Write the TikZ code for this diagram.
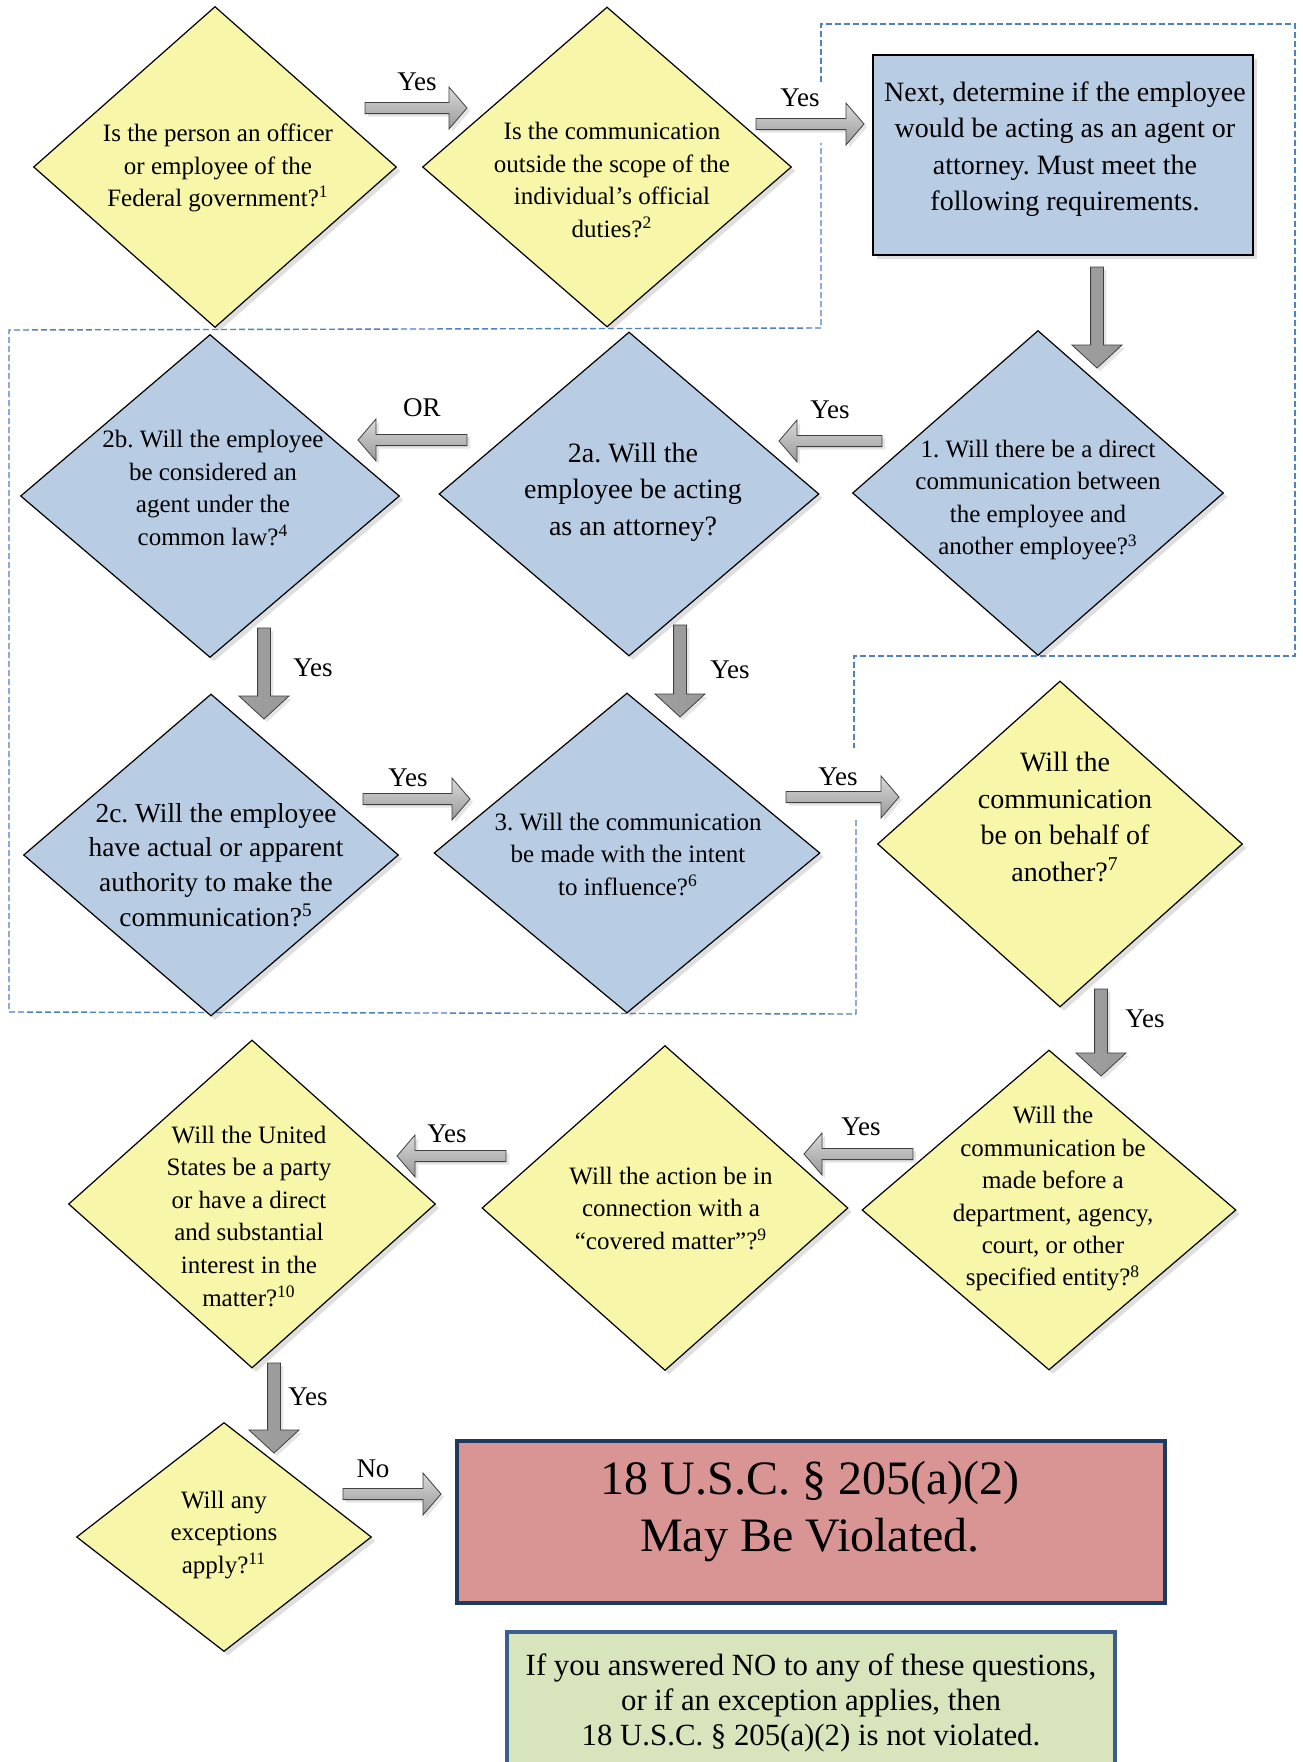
\documentclass[tikz,border=0pt]{standalone}
\usepackage{fontspec}
\setmainfont{Liberation Serif}
\usetikzlibrary{shapes.geometric,shadows,calc}
\frenchspacing
\definecolor{yel}{HTML}{F8F6A9}
\definecolor{blu}{HTML}{B8CCE4}
\definecolor{redf}{HTML}{D99594}
\definecolor{redb}{HTML}{1F3A60}
\definecolor{grnf}{HTML}{D7E4BC}
\definecolor{grnb}{HTML}{3B5E8C}
\definecolor{dashblue}{HTML}{4F81BD}
\def\arrw{3pt}\def\arrW{11pt}\def\arrh{10pt}
\tikzset{
  shd/.style={drop shadow={shadow xshift=2pt,shadow yshift=-2pt,opacity=0.25}},
  dia/.style={shape=diamond, draw=black, line width=0.6pt, inner sep=0pt, shd},
  yeldia/.style={dia, fill=yel},
  bludia/.style={dia, fill=blu},
  txt/.style={align=center, inner sep=0pt, font=\fontsize{12.5}{16.25}\selectfont},
  bigtxt/.style={align=center, inner sep=0pt, font=\fontsize{14}{18.25}\selectfont},
  lab/.style={inner sep=0pt, font=\fontsize{13.5}{16}\selectfont},
  dashline/.style={draw=dashblue, line width=0.7pt, dash pattern=on 3pt off 1.5pt},
  blk/.style={draw=gray!50!black, line width=0.4pt,
    drop shadow={shadow xshift=1.5pt,shadow yshift=-1.5pt,opacity=0.2},
    to path={let \p1=(\tikztostart), \p2=(\tikztotarget),
      \p3=($(\tikztotarget)!\arrh!(\tikztostart)$) in
      ($(\p1)!\arrw!90:(\p2)$) -- ($(\p3)!\arrw!90:(\p2)$) -- ($(\p3)!\arrW!90:(\p2)$)
      -- (\p2) -- ($(\p3)!\arrW!-90:(\p2)$) -- ($(\p3)!\arrw!-90:(\p2)$)
      -- ($(\p1)!\arrw!-90:(\p2)$) -- cycle}},
  harr/.style={blk, top color=gray!30, bottom color=gray!80,
    /utils/exec={\def\arrw{2.8pt}\def\arrW{10.5pt}\def\arrh{9pt}}},
  varr/.style={blk, left color=gray!75, middle color=gray!35, right color=gray!80,
    /utils/exec={\def\arrw{3.2pt}\def\arrW{12.5pt}\def\arrh{11.5pt}}},
}
\begin{document}
\begin{tikzpicture}[x=0.5pt,y=-0.5pt]
\useasboundingbox (0,0) rectangle (1302,1762);
\clip (0,0) rectangle (1302,1762);
\fill[white] (0,0) rectangle (1302,1762);

% dashed grouping outline
\draw[dashline] (821,82) -- (821,24) -- (1295,24) -- (1295,656) -- (854,656) -- (854,748);
\draw[dashline] (856,820) -- (856,1014) -- (9,1012) -- (9,330) -- (821,328) -- (821,143);

% row 1
\node[yeldia, minimum width=181.5pt, minimum height=160.5pt] (d1) at (215,167) {};
\node[txt] (d1t) at (218,168) {Is the person an officer\\or employee of the\\Federal government?\textsuperscript{1}};
\node[yeldia, minimum width=184.5pt, minimum height=160pt] (d2) at (607,167) {};
\node[txt] (d2t) at (612,180) {Is the communication\\outside the scope of the\\individual’s official\\duties?\textsuperscript{2}};
\node[draw=black, fill=blu, line width=0.9pt, minimum width=190pt, minimum height=100pt, inner sep=0pt, shd] (box) at (1063,155) {};
\node[bigtxt] (boxt) at (1065,149) {Next, determine if the employee\\would be acting as an agent or\\attorney. Must meet the\\following requirements.};

% row 2
\node[bludia, minimum width=185.5pt, minimum height=162.5pt] (b1) at (1038,493) {};
\node[txt] (b1t) at (1038,500) {1. Will there be a direct\\communication between\\the employee and\\another employee?\textsuperscript{3}};
\node[bludia, minimum width=190pt, minimum height=162pt] (b2a) at (629,494) {};
\node[bigtxt] (b2at) at (633,492) {2a. Will the\\employee be acting\\as an attorney?};
\node[bludia, minimum width=189.5pt, minimum height=161.5pt] (b2b) at (210,496) {};
\node[txt] (b2bt) at (213,488) {2b. Will the employee\\be considered an\\agent under the\\common law?\textsuperscript{4}};

% row 3
\node[bludia, minimum width=187.5pt, minimum height=161pt] (b2c) at (211,855) {};
\node[align=center, inner sep=0pt, font=\fontsize{13.7}{17.4}\selectfont] (b2ct) at (216,865) {2c. Will the employee\\have actual or apparent\\authority to make the\\communication?\textsuperscript{5}};
\node[bludia, minimum width=193pt, minimum height=160pt] (b3) at (627,853) {};
\node[txt] (b3t) at (628,854) {3. Will the communication\\be made with the intent\\to influence?\textsuperscript{6}};
\node[yeldia, minimum width=182.5pt, minimum height=163pt] (beh) at (1060,844) {};
\node[bigtxt] (beht) at (1065,817) {Will the\\communication\\be on behalf of\\another?\textsuperscript{7}};

% row 4
\node[yeldia, minimum width=187pt, minimum height=160pt] (dep) at (1049,1210) {};
\node[align=center, inner sep=0pt, font=\fontsize{12.5}{16.2}\selectfont] (dept) at (1053,1199) {Will the\\communication be\\made before a\\department, agency,\\court, or other\\specified entity?\textsuperscript{8}};
\node[yeldia, minimum width=183pt, minimum height=162.5pt] (cov) at (665,1208) {};
\node[txt] (covt) at (671,1208) {Will the action be in\\connection with a\\“covered matter”?\textsuperscript{9}};
\node[yeldia, minimum width=183.5pt, minimum height=164pt] (uni) at (252,1204) {};
\node[align=center, inner sep=0pt, font=\fontsize{12.5}{16.3}\selectfont] (unit) at (249,1216) {Will the United\\States be a party\\or have a direct\\and substantial\\interest in the\\matter?\textsuperscript{10}};

% row 5
\node[yeldia, minimum width=147.5pt, minimum height=114.5pt] (exc) at (224,1537) {};
\node[txt] (exct) at (224,1535) {Will any\\exceptions\\apply?\textsuperscript{11}};
\node[draw=redb, fill=redf, line width=2pt, minimum width=354pt, minimum height=81pt, inner sep=0pt] (red) at (811,1522) {};
\node[align=center, inner sep=0pt, font=\fontsize{24}{28.5}\selectfont] (redt) at (810,1512) {18 U.S.C. § 205(a)(2)\\May Be Violated.};
\node[draw=grnb, fill=grnf, line width=2pt, minimum width=304pt, minimum height=79pt, inner sep=0pt] (grn) at (811,1711) {};
\node[align=center, inner sep=0pt, font=\fontsize{15.4}{17.4}\selectfont] (grnt) at (811,1703) {If you answered NO to any of these questions,\\or if an exception applies, then\\18 U.S.C. § 205(a)(2) is not violated.};

% arrows
\coordinate (a1s) at (365,108);  \coordinate (a1e) at (467,108);
\coordinate (a2s) at (756,124);  \coordinate (a2e) at (864,124);
\coordinate (a3s) at (1097,267); \coordinate (a3e) at (1097,368);
\coordinate (a4s) at (882,441);  \coordinate (a4e) at (779,441);
\coordinate (a5s) at (467,440);  \coordinate (a5e) at (358,440);
\coordinate (a6s) at (264,628);  \coordinate (a6e) at (264,719);
\coordinate (a7s) at (680,625);  \coordinate (a7e) at (680,717);
\coordinate (a8s) at (363,799);  \coordinate (a8e) at (470,799);
\coordinate (a9s) at (786,797);  \coordinate (a9e) at (899,797);
\coordinate (a10s) at (1101,989); \coordinate (a10e) at (1101,1076);
\coordinate (a11s) at (913,1154); \coordinate (a11e) at (804,1154);
\coordinate (a12s) at (506,1156); \coordinate (a12e) at (397,1156);
\coordinate (a13s) at (274,1363); \coordinate (a13e) at (274,1453);
\coordinate (a14s) at (343,1494); \coordinate (a14e) at (441,1494);

\draw[harr] (a1s) to (a1e);
\draw[harr] (a2s) to (a2e);
\draw[varr] (a3s) to (a3e);
\draw[harr] (a4s) to (a4e);
\draw[harr] (a5s) to (a5e);
\draw[varr] (a6s) to (a6e);
\draw[varr] (a7s) to (a7e);
\draw[harr] (a8s) to (a8e);
\draw[harr] (a9s) to (a9e);
\draw[varr] (a10s) to (a10e);
\draw[harr] (a11s) to (a11e);
\draw[harr] (a12s) to (a12e);
\draw[varr] (a13s) to (a13e);
\draw[harr] (a14s) to (a14e);

% labels
\node[lab] (l1) at (417,82) {Yes};
\node[lab] (l2) at (800,98) {Yes};
\node[lab] (l4) at (830,410) {Yes};
\node[lab] (l5) at (422,408) {OR};
\node[lab] (l6) at (313,668) {Yes};
\node[lab] (l7) at (730,670) {Yes};
\node[lab] (l8) at (408,778) {Yes};
\node[lab] (l9) at (838,777) {Yes};
\node[lab] (l10) at (1145,1019) {Yes};
\node[lab] (l11) at (861,1127) {Yes};
\node[lab] (l12) at (447,1134) {Yes};
\node[lab] (l13) at (308,1397) {Yes};
\node[lab] (l14) at (373,1469) {No};
\end{tikzpicture}
\end{document}
